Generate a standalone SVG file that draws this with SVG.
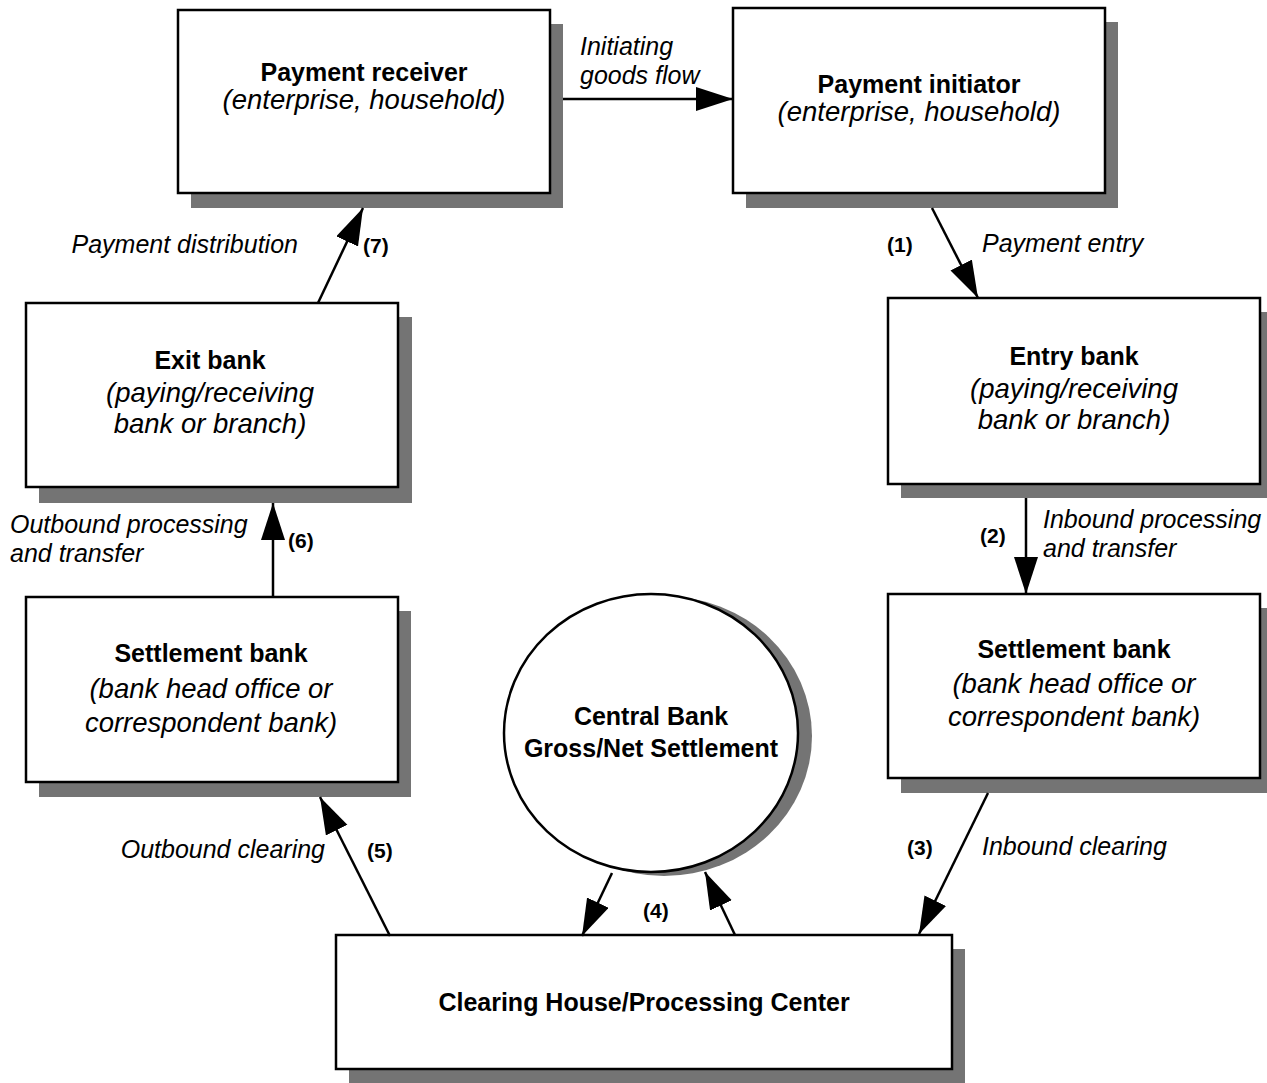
<svg xmlns="http://www.w3.org/2000/svg" width="1267" height="1083" viewBox="0 0 1267 1083">
<style>
.box{fill:#fff;stroke:#000;stroke-width:2.5}
.sh{fill:#747474}
.t{font-family:"Liberation Sans",Arial,sans-serif;font-size:25px;font-weight:bold;text-anchor:middle;fill:#000}
.s{font-family:"Liberation Sans",Arial,sans-serif;font-size:27.5px;font-style:italic;text-anchor:middle;fill:#000}
.l{font-family:"Liberation Sans",Arial,sans-serif;font-size:25px;font-style:italic;fill:#000}
.n{font-family:"Liberation Sans",Arial,sans-serif;font-size:21px;font-weight:bold;fill:#000}
.c{fill:none;stroke:#000;stroke-width:2.5;marker-end:url(#ah)}
</style>
<defs>
<marker id="ah" markerUnits="userSpaceOnUse" markerWidth="40" markerHeight="26" refX="37" refY="12" orient="auto">
<path d="M0,0 L37,12 L0,24 Z" fill="#000"/>
</marker>
</defs>
<rect width="1267" height="1083" fill="#fff"/>

<g id="payment-receiver">
<rect class="sh" x="191" y="24" width="372" height="184"/>
<rect class="box" x="178" y="10" width="372" height="183"/>
<text class="t" x="364" y="81">Payment receiver</text>
<text class="s" x="364" y="109">(enterprise, household)</text>
</g>

<g id="payment-initiator">
<rect class="sh" x="746" y="22" width="372" height="186"/>
<rect class="box" x="733" y="8" width="372" height="185"/>
<text class="t" x="919" y="93">Payment initiator</text>
<text class="s" x="919" y="121">(enterprise, household)</text>
</g>

<g id="entry-bank">
<rect class="sh" x="901" y="312" width="372" height="186"/>
<rect class="box" x="888" y="298" width="372" height="186"/>
<text class="t" x="1074" y="365">Entry bank</text>
<text class="s" x="1074" y="398">(paying/receiving</text>
<text class="s" x="1074" y="429">bank or branch)</text>
</g>

<g id="settlement-bank-right">
<rect class="sh" x="901" y="608" width="372" height="185"/>
<rect class="box" x="888" y="594" width="372" height="184"/>
<text class="t" x="1074" y="658">Settlement bank</text>
<text class="s" x="1074" y="693">(bank head office or</text>
<text class="s" x="1074" y="726">correspondent bank)</text>
</g>

<g id="exit-bank">
<rect class="sh" x="39" y="317" width="373" height="186"/>
<rect class="box" x="26" y="303" width="372" height="184"/>
<text class="t" x="210" y="369">Exit bank</text>
<text class="s" x="210" y="402">(paying/receiving</text>
<text class="s" x="210" y="433">bank or branch)</text>
</g>

<g id="settlement-bank-left">
<rect class="sh" x="39" y="611" width="372" height="186"/>
<rect class="box" x="26" y="597" width="372" height="185"/>
<text class="t" x="211" y="662">Settlement bank</text>
<text class="s" x="211" y="698">(bank head office or</text>
<text class="s" x="211" y="732">correspondent bank)</text>
</g>

<g id="central-bank">
<ellipse class="sh" cx="664" cy="736" rx="148" ry="140"/>
<ellipse class="box" cx="651" cy="733" rx="147" ry="139"/>
<text class="t" x="651" y="725">Central Bank</text>
<text class="t" x="651" y="757">Gross/Net Settlement</text>
</g>

<g id="clearing-house">
<rect class="sh" x="349" y="949" width="616" height="134"/>
<rect class="box" x="336" y="935" width="616" height="134"/>
<text class="t" x="644" y="1011">Clearing House/Processing Center</text>
</g>

<g id="connectors">
<line class="c" x1="563" y1="99" x2="733" y2="99"/>
<line class="c" x1="932" y1="208" x2="978" y2="298"/>
<line class="c" x1="1026" y1="498" x2="1026" y2="594"/>
<line class="c" x1="988" y1="793" x2="919" y2="934"/>
<line class="c" x1="612" y1="873" x2="582" y2="936"/>
<line class="c" x1="735" y1="935" x2="705" y2="872"/>
<line class="c" x1="390" y1="936" x2="320" y2="797"/>
<line class="c" x1="273" y1="597" x2="273" y2="503"/>
<line class="c" x1="318" y1="303" x2="363" y2="208"/>
</g>

<g id="labels">
<text class="l" x="580" y="55">Initiating</text>
<text class="l" x="580" y="84">goods flow</text>
<text class="n" x="887" y="252">(1)</text>
<text class="l" x="982" y="252">Payment entry</text>
<text class="n" x="980" y="543">(2)</text>
<text class="l" x="1043" y="528">Inbound processing</text>
<text class="l" x="1043" y="557">and transfer</text>
<text class="n" x="907" y="855">(3)</text>
<text class="l" x="982" y="855">Inbound clearing</text>
<text class="n" x="643" y="918">(4)</text>
<text class="n" x="367" y="858">(5)</text>
<text class="l" x="325" y="858" text-anchor="end">Outbound clearing</text>
<text class="n" x="288" y="548">(6)</text>
<text class="l" x="10" y="533">Outbound processing</text>
<text class="l" x="10" y="562">and transfer</text>
<text class="n" x="363" y="253">(7)</text>
<text class="l" x="298" y="253" text-anchor="end">Payment distribution</text>
</g>
</svg>
